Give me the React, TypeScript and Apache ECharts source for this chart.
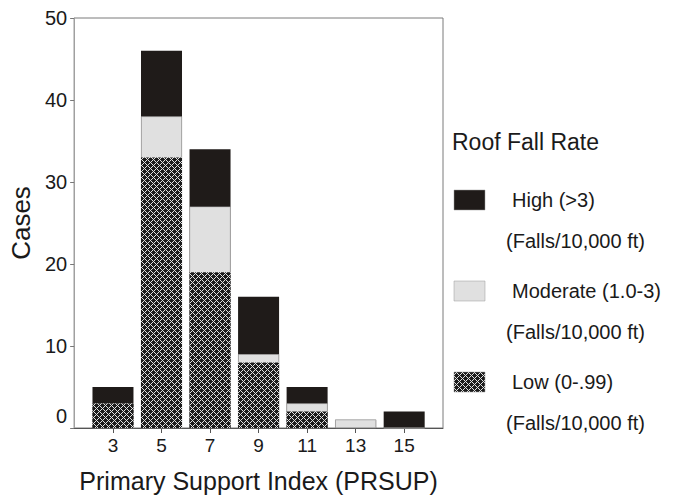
import React, { useEffect, useRef } from "react";
import * as echarts from "echarts";

// PRSUP classes on the horizontal axis
const prsupValues = [3, 5, 7, 9, 11, 13, 15];
// Case counts per roof fall rate class (stacked bottom to top)
const lowCases = [3, 33, 19, 8, 2, 0, 0];
const moderateCases = [0, 5, 8, 1, 1, 1, 0];
const highCases = [2, 8, 7, 7, 2, 0, 2];

const seriesNames = ["Low (0-.99)", "Moderate (1.0-3)", "High (>3)"];
const legendTitle = "Roof Fall Rate";
const legendUnit = "(Falls/10,000 ft)";
const yAxisTitle = "Cases";
const xAxisTitle = "Primary Support Index (PRSUP)";

const FONT = "'Liberation Sans', Arial, Helvetica, sans-serif";
const INK = "#1a1a1a";
const HIGH_COLOR = "#1f1b19";
const MODERATE_COLOR = "#e0e0e0";

// Small crosshatch tile: white diagonal lines on a dark ground
function makeHatch(): { url: string; size: number } {
  const size = 6;
  const c = document.createElement("canvas");
  c.width = size;
  c.height = size;
  const ctx = c.getContext("2d")!;
  const img = ctx.createImageData(size, size);
  for (let y = 0; y < size; y++) {
    for (let x = 0; x < size; x++) {
      const onLine = (x + y) % size === 0 || (x - y + size) % size === 0;
      const v = onLine ? 225 : 28;
      const i = (y * size + x) * 4;
      img.data[i] = v;
      img.data[i + 1] = v;
      img.data[i + 2] = v;
      img.data[i + 3] = 255;
    }
  }
  ctx.putImageData(img, 0, 0);
  return { url: c.toDataURL(), size };
}

export default function App() {
  const ref = useRef<HTMLDivElement>(null);

  useEffect(() => {
    if (!ref.current) return;
    const chart = echarts.init(ref.current, null, { renderer: "svg" });
    const hatch = makeHatch();
    const hatchFill: any = {
      image: hatch.url,
      repeat: "repeat",
      imageWidth: hatch.size,
      imageHeight: hatch.size,
    };

    // Cumulative tops: each class is drawn from zero up to its stacked top,
    // back to front, so the visible band of every class matches its count.
    const tops = [lowCases, moderateCases, highCases].map((_, k) =>
      prsupValues.map((__, i) =>
        [lowCases, moderateCases, highCases]
          .slice(0, k + 1)
          .reduce((s, arr) => s + arr[i], 0)
      )
    );
    const fills = [hatchFill, MODERATE_COLOR, HIGH_COLOR];

    const series = [2, 1, 0].map((k) => ({
      name: seriesNames[k],
      type: "bar",
      barWidth: 41,
      barGap: "-100%",
      data: prsupValues.map((x, i) => [x, tops[k][i]]),
      itemStyle: {
        color: fills[k],
        borderColor: k === 1 ? "#b0b0b0" : HIGH_COLOR,
        borderWidth: k === 1 ? 0.6 : 0,
      },
    }));

    // Legend drawn as graphic elements: swatch, class label, unit line
    const legendRows = [
      { name: seriesNames[2], fill: HIGH_COLOR, y: 190 },
      { name: seriesNames[1], fill: MODERATE_COLOR, y: 281 },
      { name: seriesNames[0], fill: hatchFill, y: 372 },
    ];
    const legendGraphics: any[] = [
      {
        type: "text",
        x: 452,
        y: 142,
        style: {
          text: legendTitle,
          font: `23px ${FONT}`,
          fill: INK,
          verticalAlign: "middle",
        },
      },
    ];
    legendRows.forEach((row) => {
      legendGraphics.push({
        type: "rect",
        shape: { x: 454, y: row.y, width: 31, height: 20 },
        style: { fill: row.fill, stroke: "#999", lineWidth: 0.5 },
      });
      legendGraphics.push({
        type: "text",
        x: 512,
        y: row.y + 10,
        style: {
          text: row.name,
          font: `20px ${FONT}`,
          fill: INK,
          verticalAlign: "middle",
        },
      });
      legendGraphics.push({
        type: "text",
        x: 506,
        y: row.y + 51,
        style: {
          text: legendUnit,
          font: `20px ${FONT}`,
          fill: INK,
          verticalAlign: "middle",
        },
      });
    });

    chart.setOption({
      animation: false,
      backgroundColor: "#ffffff",
      grid: {
        left: 73,
        right: 237,
        top: 18,
        bottom: 68,
        show: true,
        borderColor: "#7a7a7a",
        borderWidth: 1,
      },
      xAxis: {
        type: "value",
        min: 1.4,
        max: 16.6,
        name: xAxisTitle,
        nameLocation: "middle",
        nameGap: 40,
        nameTextStyle: { fontFamily: FONT, fontSize: 25, color: INK },
        axisLine: { lineStyle: { color: "#555", width: 1 } },
        axisTick: {
          show: true,
          length: 5,
          customValues: prsupValues,
          lineStyle: { color: "#555" },
        },
        axisLabel: {
          customValues: prsupValues,
          fontFamily: FONT,
          fontSize: 19,
          color: INK,
          margin: 8,
        },
        splitLine: { show: false },
      },
      yAxis: {
        type: "value",
        min: 0,
        max: 50,
        interval: 10,
        name: yAxisTitle,
        nameLocation: "middle",
        nameGap: 36,
        nameTextStyle: { fontFamily: FONT, fontSize: 26, color: INK },
        axisLine: { show: true, lineStyle: { color: "#a0a0a0", width: 1 } },
        axisTick: { show: true, length: 4, lineStyle: { color: "#777" } },
        axisLabel: {
          fontFamily: FONT,
          fontSize: 20,
          color: INK,
          margin: 7,
          formatter: (v: number) => (v === 0 ? "{z|0}" : String(v)),
          rich: {
            z: { fontFamily: FONT, fontSize: 20, color: INK, padding: [0, 0, 24, 0] },
          },
        },
        splitLine: { show: false },
      },
      series,
      graphic: legendGraphics,
    });

    return () => chart.dispose();
  }, []);

  return (
    <div
      ref={ref}
      style={{ position: "absolute", left: 0, top: 0, width: 680, height: 498 }}
    />
  );
}
